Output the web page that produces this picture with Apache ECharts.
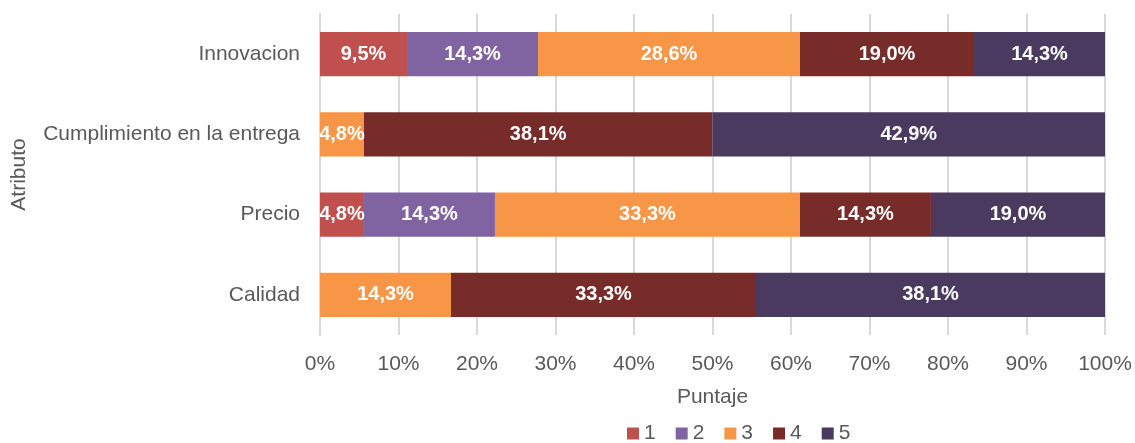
<!DOCTYPE html>
<html><head><meta charset="utf-8">
<script src="https://cdn.jsdelivr.net/npm/echarts@6/dist/echarts.min.js"></script>
<style>html,body{margin:0;padding:0;background:#fff}#c{width:1135px;height:443px}</style>
</head><body><div id="c"></div>
<script>
const categories = ['Calidad', 'Precio', 'Cumplimiento en la entrega', 'Innovacion'];
const seriesNames = ['1', '2', '3', '4', '5'];
const s1 = [null, 4.8, null, 9.5];
const s2 = [null, 14.3, null, 14.3];
const s3 = [14.3, 33.3, 4.8, 28.6];
const s4 = [33.3, 14.3, 38.1, 19.0];
const s5 = [38.1, 19.0, 42.9, 14.3];
const colors = ['#C0504D', '#8064A2', '#F79646', '#772C2A', '#4B3A5F'];

const raw = [s1, s2, s3, s4, s5];
const totals = categories.map((_, i) => raw.reduce((a, s) => a + (s[i] || 0), 0));
const font = '"Liberation Sans", Arial, sans-serif';

const series = raw.map((arr, k) => ({
  name: seriesNames[k],
  type: 'bar',
  stack: 'total',
  barWidth: '55%',
  itemStyle: { color: colors[k] },
  label: {
    show: true, position: 'inside', color: '#fff', fontWeight: 'bold',
    fontSize: 20, fontFamily: font,
    formatter: p => p.data.raw == null ? '' : p.data.raw.toFixed(1).replace('.', ',') + '%'
  },
  labelLayout: { hideOverlap: false },
  data: arr.map((v, i) => ({ value: v == null ? 0 : v / totals[i] * 100, raw: v }))
}));

const chart = echarts.init(document.getElementById('c'));
chart.setOption({
  animation: false,
  textStyle: { fontFamily: font },
  grid: { left: 320, right: 30, top: 14, bottom: 108, containLabel: false },
  legend: {
    bottom: -6, left: 622, itemWidth: 12, itemHeight: 12, itemGap: 20,
    icon: 'rect', textStyle: { fontSize: 21, color: '#595959', fontFamily: font },
    data: seriesNames
  },
  xAxis: {
    type: 'value', min: 0, max: 100, interval: 10,
    name: 'Puntaje', nameLocation: 'middle', nameGap: 52,
    nameTextStyle: { fontSize: 21, color: '#595959' },
    axisLabel: { fontSize: 21, color: '#595959', margin: 19, formatter: v => v + '%' },
    splitLine: { show: true, lineStyle: { color: '#D9D9D9', width: 2 } },
    axisLine: { show: false }, axisTick: { show: false }
  },
  yAxis: {
    type: 'category', data: categories,
    name: 'Atributo', nameLocation: 'middle', nameGap: 290, nameRotate: 90,
    nameTextStyle: { fontSize: 21, color: '#595959' },
    axisLabel: { fontSize: 21, color: '#595959', margin: 20 },
    axisLine: { show: true, lineStyle: { color: '#D9D9D9', width: 2 } }, axisTick: { show: false }
  },
  series: series
});
</script></body></html>
